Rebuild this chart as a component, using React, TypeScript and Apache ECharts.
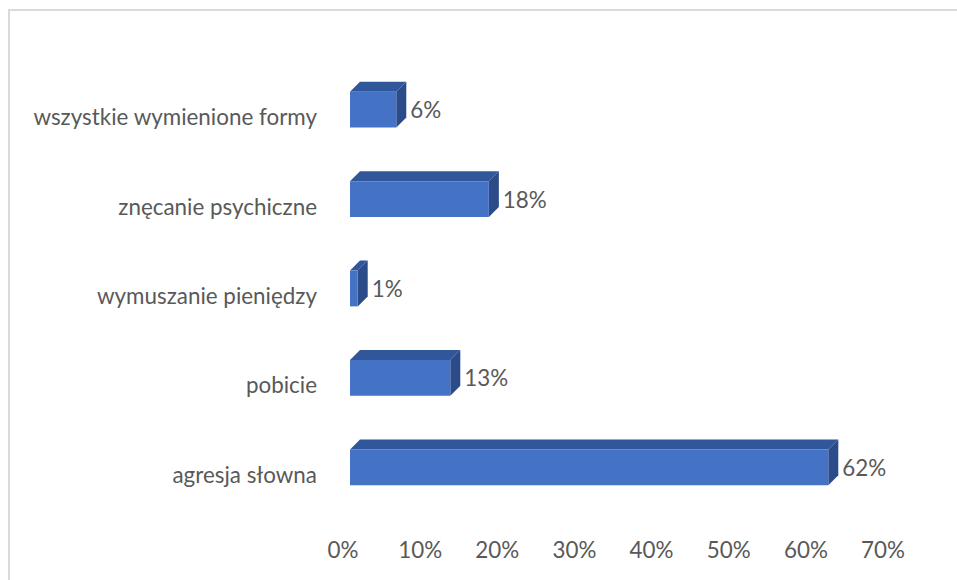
import React, { useEffect, useRef } from "react";
import * as echarts from "echarts";

const categories = [
  "agresja słowna",
  "pobicie",
  "wymuszanie pieniędzy",
  "znęcanie psychiczne",
  "wszystkie wymienione formy",
];
const values = [62, 13, 1, 18, 6];
const axisMax = 70;
const axisStep = 10;

const FONT = "Lato, 'Noto Sans', sans-serif";
const TEXT = "#595959";
const FS = 22.4;

export default function App() {
  const ref = useRef<HTMLDivElement>(null);
  useEffect(() => {
    if (!ref.current) return;
    const chart = echarts.init(ref.current, undefined, { renderer: "svg" });
    const depth = 10;
    const shiftX = 7;
    const shiftY = -7;
    chart.setOption({
      animation: false,
      backgroundColor: "#ffffff",
      graphic: [
        {
          type: "rect",
          shape: { x: 9, y: 10, width: 1000, height: 700 },
          style: { fill: "none", stroke: "#d9d9d9", lineWidth: 2 },
          silent: true,
        },
      ],
      grid: { left: 343, right: 74, top: 72, bottom: 61 },
      xAxis: {
        type: "value",
        min: 0,
        max: axisMax,
        interval: axisStep,
        axisLine: { show: false },
        axisTick: { show: false },
        splitLine: { show: false },
        axisLabel: {
          formatter: "{value}%",
          color: TEXT,
          fontFamily: FONT,
          fontSize: FS,
          margin: 19,
        },
      },
      yAxis: {
        type: "category",
        data: categories,
        axisLine: { show: false },
        axisTick: { show: false },
        axisLabel: {
          color: TEXT,
          fontFamily: FONT,
          fontSize: FS,
          margin: 26,
        },
      },
      series: [
        {
          type: "custom",
          data: values.map((v, i) => [v, i]),
          encode: { x: 0, y: 1 },
          renderItem: (params: any, api: any) => {
            const v = api.value(0);
            const idx = api.value(1);
            const p0 = api.coord([0, idx]);
            const p1 = api.coord([v, idx]);
            const band = api.size([0, 1])[1];
            const h = band * 0.4;
            const x0 = p0[0] + shiftX;
            const x1 = p1[0] + shiftX;
            const yc = p0[1] + shiftY;
            const yt = yc - h / 2;
            const yb = yc + h / 2;
            return {
              type: "group",
              children: [
                {
                  type: "polygon",
                  shape: {
                    points: [
                      [x0, yt],
                      [x0 + depth, yt - depth],
                      [x1 + depth, yt - depth],
                      [x1, yt],
                    ],
                  },
                  style: { fill: "#31579b" },
                },
                {
                  type: "polygon",
                  shape: {
                    points: [
                      [x1, yt],
                      [x1 + depth, yt - depth],
                      [x1 + depth, yb - depth],
                      [x1, yb],
                    ],
                  },
                  style: { fill: "#2b4b89" },
                },
                {
                  type: "rect",
                  shape: { x: x0, y: yt, width: x1 - x0, height: h },
                  style: { fill: "#4472c4" },
                },
                {
                  type: "text",
                  style: {
                    text: v + "%",
                    x: x1 + depth + 4,
                    y: yc,
                    verticalAlign: "middle",
                    align: "left",
                    fill: TEXT,
                    font: `${FS}px ${FONT}`,
                  },
                },
              ],
            };
          },
        },
      ],
    });
    return () => chart.dispose();
  }, []);
  return (
    <div
      ref={ref}
      style={{ position: "fixed", left: 0, top: 0, width: 957, height: 580 }}
    />
  );
}
